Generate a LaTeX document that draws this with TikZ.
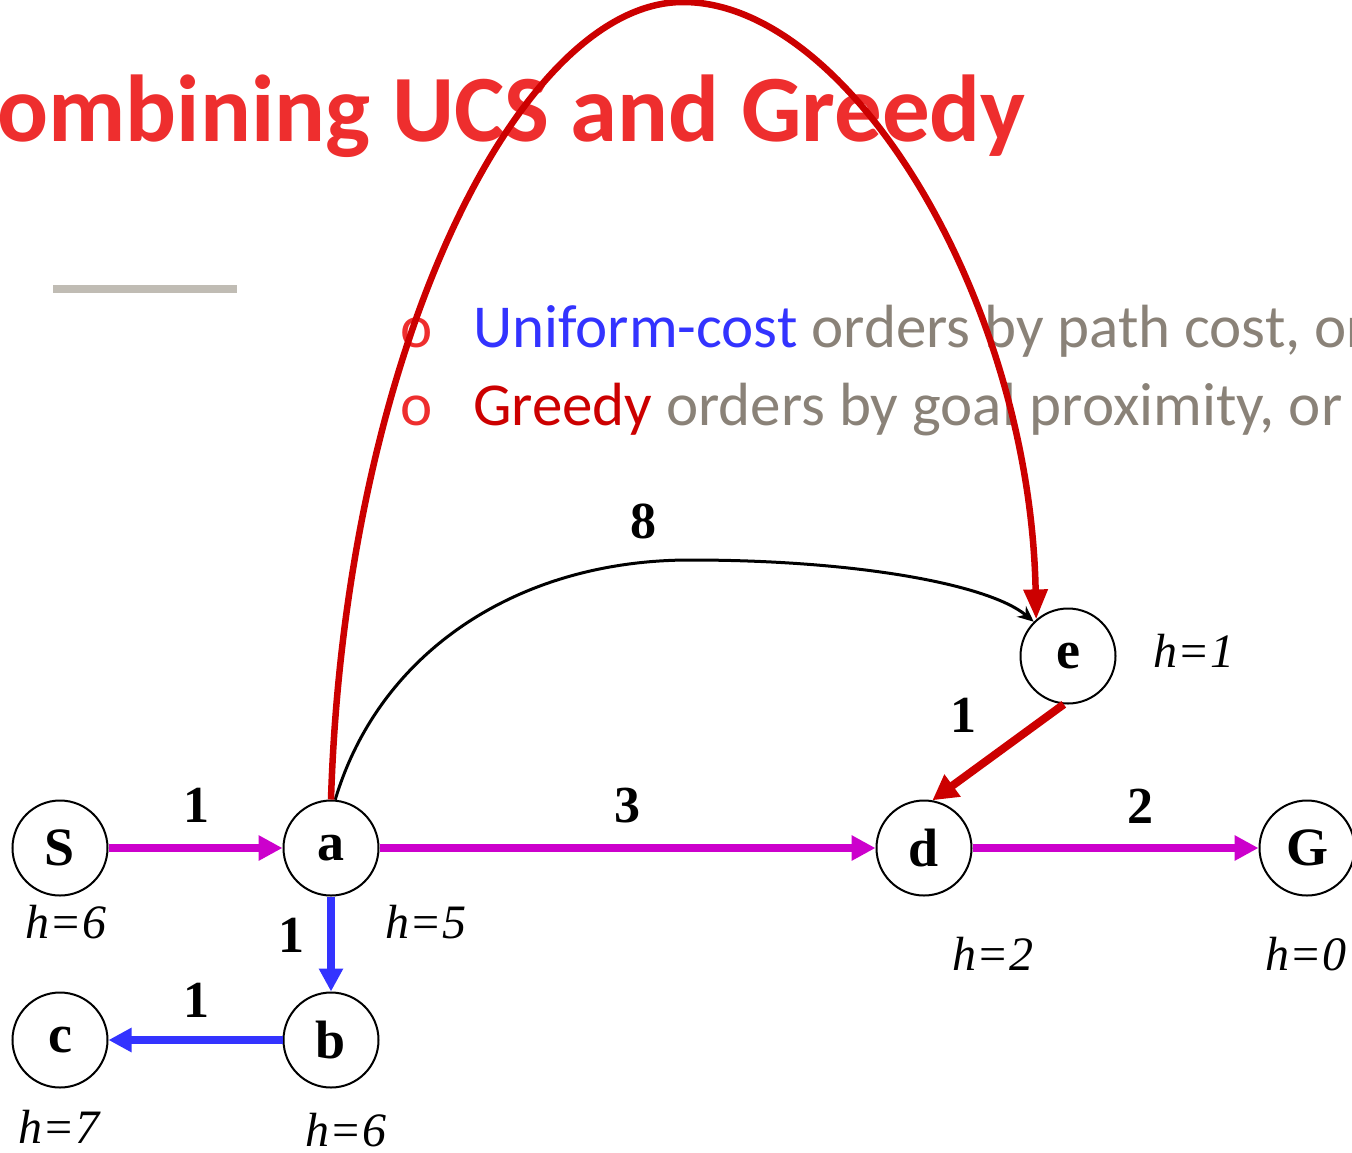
\documentclass[tikz,border=0pt]{standalone}
\usepackage{fontspec}
\setmainfont{Liberation Serif}
\newfontfamily\calfont{Carlito}
\usetikzlibrary{arrows.meta}
\definecolor{titlered}{RGB}{238,46,46}
\definecolor{ucsblue}{RGB}{51,51,255}
\definecolor{greedyred}{RGB}{204,0,0}
\definecolor{txtgray}{RGB}{138,130,120}
\definecolor{bargray}{RGB}{192,188,180}
\definecolor{pathmag}{RGB}{204,0,204}
\tikzset{
  state/.style={circle, draw=black, line width=2pt, minimum size=95pt, inner sep=0pt,
    font=\fontsize{54}{54}\selectfont\bfseries},
  hlab/.style={anchor=base, inner sep=0pt, font=\fontsize{48}{48}\selectfont\itshape},
  wlab/.style={inner sep=0pt, font=\fontsize{52}{52}\selectfont\bfseries},
  magedge/.style={draw=pathmag, line width=8pt, -{Triangle[length=24pt,width=24pt]}},
  blueedge/.style={draw=ucsblue, line width=8pt, -{Triangle[length=23pt,width=23pt]}},
  rededge/.style={draw=greedyred, line width=8pt, -{Triangle[length=25pt,width=26pt]}},
  redarc/.style={draw=greedyred, line width=6.5pt, -{Triangle[length=30pt,width=23pt]}},
  blackedge/.style={draw=black, line width=3pt, -{Stealth[length=16pt,width=14pt]}},
  bullet/.style={anchor=base west, inner sep=0pt, font=\calfont\fontsize{61}{61}\selectfont}
}
\begin{document}
\begin{tikzpicture}[x=1pt,y=-1pt]
\useasboundingbox (0,0) rectangle (1352,1152);
\clip (0,0) rectangle (1352,1152);

% title
\node[anchor=base east, inner sep=0pt, text=titlered,
  font=\calfont\bfseries\fontsize{95}{95}\selectfont] (title) at (1026,141) {Combining UCS and Greedy};
% bar
\fill[bargray] (53,285) rectangle (237,293);
% bullets
\node[bullet, text=titlered] (b1) at (400,347) {o};
\node[bullet] (t1) at (473,347) {\textcolor{ucsblue}{Uniform-cost} \textcolor{txtgray}{orders by path cost, or backward cost g(n)}};
\node[bullet, text=titlered] (b2) at (400,425) {o};
\node[bullet] (t2) at (473,425) {\textcolor{greedyred}{Greedy} \textcolor{txtgray}{orders by goal proximity, or forward cost h(n)}};

% states
\node[state] (S) at (60,848) {S};
\node[state] (a) at (331,848) {a};
\node[state] (d) at (924,848) {d};
\node[state] (G) at (1307,848) {G};
\node[state] (e) at (1068,656) {e};
\node[state] (c) at (60,1040) {c};
\node[state] (b) at (331,1040) {b};

% heuristics
\node[hlab] (hS) at (66,938) {h=6};
\node[hlab] (ha) at (426,938) {h=5};
\node[hlab] (hc) at (59,1143) {h=7};
\node[hlab] (hb) at (346,1146) {h=6};
\node[hlab] (hd) at (993,970) {h=2};
\node[hlab] (hG) at (1306,970) {h=0};
\node[hlab] (he) at (1194,667) {h=1};

% edges
\draw[blackedge] (a.85) .. controls (380,650) and (520,560) .. (690,560)
   .. controls (860,560) and (990,585) .. (e.135);
\draw[magedge] (S) -- (a);
\draw[magedge] (a) -- (d);
\draw[magedge] (d) -- (G);
\draw[blueedge] (a) -- (b);
\draw[blueedge] (b) -- (c);
\draw[rededge] (e.265) -- (d.80);
\draw[redarc] (a.90) .. controls (345,350) and (520,2) .. (683,2)
   .. controls (850,2) and (1030,300) .. (e.131);

% weights
\node[wlab] (w1) at (196,805) {1};
\node[wlab] (w2) at (627,806) {3};
\node[wlab] (w3) at (1140,806) {2};
\node[wlab] (w4) at (291,935) {1};
\node[wlab] (w5) at (196,1000) {1};
\node[wlab] (w6) at (643,521) {8};
\node[wlab] (w7) at (963,715) {1};
\end{tikzpicture}
\end{document}
